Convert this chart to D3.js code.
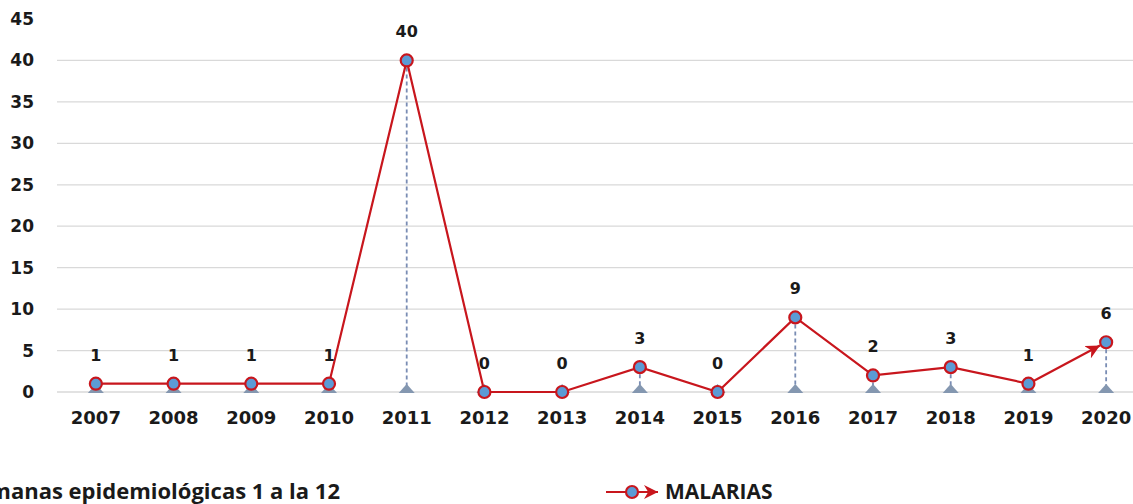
<!DOCTYPE html>
<html>
<head>
<meta charset="utf-8">
<script src="https://cdn.jsdelivr.net/npm/d3@7"></script>
<style>
  body { margin: 0; background: #fff; overflow: hidden; }
  svg { display: block; }
  .tick text { font-family: "DejaVu Sans", Verdana, sans-serif; font-weight: bold; font-size: 17px; fill: #1a1a1a; }
  #x-axis .tick text { font-size: 18px; }
</style>
</head>
<body>
<svg></svg>
<script>
let years = ["2007", "2008", "2009", "2010", "2011", "2012", "2013", "2014", "2015", "2016", "2017", "2018", "2019", "2020"];
let cases = [1, 1, 1, 1, 40, 0, 0, 3, 0, 9, 2, 3, 1, 6];
let yTicks = [0, 5, 10, 15, 20, 25, 30, 35, 40, 45];
let seriesName = "MALARIAS";
let footnote = "Semanas epidemiológicas 1 a la 12";

let width = 1133;
let height = 504;
let plotLeft = 57;
let plotRight = 1145;
let plotTop = 19;
let plotBottom = 392;

let red = "#c8161d";
let blue = "#5b9bd5";
let drop = "#7a8db4";

let svg = d3.select("svg").attr("width", width).attr("height", height);

let xScale = d3.scaleBand().domain(years).range([plotLeft, plotRight]);
let yScale = d3.scaleLinear().domain([0, 45]).range([plotBottom, plotTop]);
let cx = (d, i) => xScale(years[i]) + xScale.bandwidth() / 2;

let defs = svg.append("defs");
defs.append("marker")
    .attr("id", "arrow")
    .attr("viewBox", "0 0 10 10")
    .attr("refX", 10).attr("refY", 5)
    .attr("markerWidth", 14).attr("markerHeight", 14)
    .attr("markerUnits", "userSpaceOnUse")
    .attr("orient", "auto")
    .append("path").attr("d", "M0,0 L10,5 L0,10 L3,5 Z").attr("fill", red);

// gridlines
svg.append("g")
   .selectAll("line")
   .data(yTicks.filter(t => t < 45))
   .enter()
   .append("line")
   .attr("x1", plotLeft).attr("x2", width)
   .attr("y1", d => yScale(d)).attr("y2", d => yScale(d))
   .attr("stroke", "#d9d9d9").attr("stroke-width", 1.3);

// y axis
let yAxis = svg.append("g")
   .attr("id", "y-axis")
   .attr("transform", "translate(" + 34 + ",0)")
   .call(d3.axisLeft(yScale).tickValues(yTicks).tickSize(0).tickPadding(0));
yAxis.select(".domain").remove();

// x axis
let xAxis = svg.append("g")
   .attr("id", "x-axis")
   .attr("transform", "translate(0," + plotBottom + ")")
   .call(d3.axisBottom(xScale).tickSize(0).tickPadding(19));
xAxis.select(".domain").remove();

// drop lines
svg.append("g")
   .selectAll("line")
   .data(cases)
   .enter()
   .append("line")
   .attr("x1", cx).attr("x2", cx)
   .attr("y1", d => yScale(d)).attr("y2", yScale(0))
   .attr("stroke", drop).attr("stroke-width", 1.8)
   .attr("stroke-dasharray", "4,3");

// triangles at base
svg.append("g")
   .selectAll("path")
   .data(cases)
   .enter()
   .append("path")
   .attr("d", (d, i) => {
       let x = cx(d, i), y = yScale(0);
       return "M" + (x - 8) + "," + (y + 1) + " L" + x + "," + (y - 8) + " L" + (x + 8) + "," + (y + 1) + " Z";
   })
   .attr("fill", "#8497b0");

// line segments
let pts = cases.map((d, i) => [cx(d, i), yScale(d)]);
let line = d3.line();
svg.append("path")
   .attr("d", line(pts.slice(0, pts.length - 1)))
   .attr("fill", "none").attr("stroke", red).attr("stroke-width", 2.2);
let a = pts[pts.length - 2], b = pts[pts.length - 1];
let dx = b[0] - a[0], dy = b[1] - a[1], len = Math.sqrt(dx * dx + dy * dy);
svg.append("path")
   .attr("d", line([a, [b[0] - dx / len * 7, b[1] - dy / len * 7]]))
   .attr("fill", "none").attr("stroke", red).attr("stroke-width", 2.2)
   .attr("marker-end", "url(#arrow)");

// points
svg.append("g")
   .selectAll("circle")
   .data(cases)
   .enter()
   .append("circle")
   .attr("cx", cx).attr("cy", d => yScale(d))
   .attr("r", 6)
   .attr("fill", blue).attr("stroke", red).attr("stroke-width", 2.2);

// data labels
svg.append("g")
   .selectAll("text")
   .data(cases)
   .enter()
   .append("text")
   .attr("x", cx).attr("y", d => yScale(d) - 23)
   .attr("text-anchor", "middle")
   .attr("font-family", "DejaVu Sans, Verdana, sans-serif")
   .attr("font-weight", "bold").attr("font-size", 16)
   .attr("fill", "#1a1a1a")
   .text(d => d);

// footnote (its start runs past the left edge, as in the source image)
svg.append("text")
   .attr("x", 340).attr("y", 499)
   .attr("text-anchor", "end")
   .attr("font-family", "Open Sans, sans-serif")
   .attr("font-weight", "bold").attr("font-size", 22)
   .attr("fill", "#1a1a1a")
   .text(footnote);

// legend
let lg = svg.append("g").attr("transform", "translate(606,492)");
lg.append("line").attr("x1", 0).attr("x2", 52).attr("y1", 0).attr("y2", 0)
  .attr("stroke", red).attr("stroke-width", 2.2).attr("marker-end", "url(#arrow)");
lg.append("circle").attr("cx", 26).attr("cy", 0).attr("r", 6)
  .attr("fill", blue).attr("stroke", red).attr("stroke-width", 2.2);
lg.append("text").attr("x", 59).attr("y", 7)
  .attr("font-family", "Open Sans, sans-serif")
  .attr("font-weight", "bold").attr("font-size", 21)
  .attr("fill", "#1a1a1a")
  .text(seriesName);
</script>
</body>
</html>
